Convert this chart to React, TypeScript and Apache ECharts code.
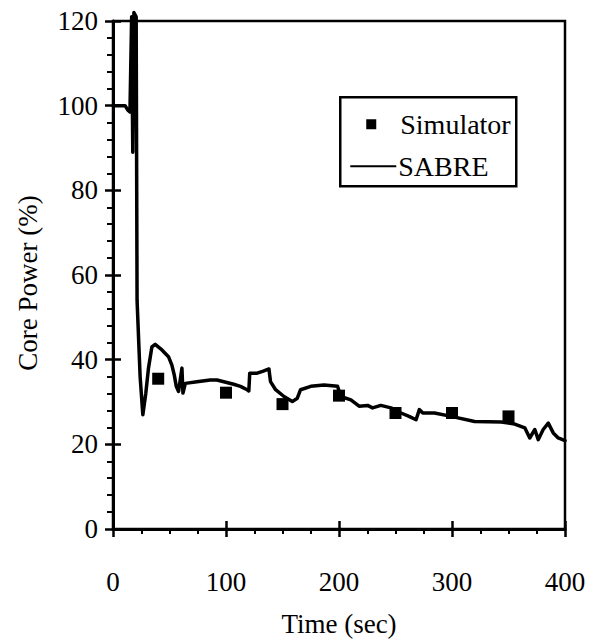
import React, { useEffect, useRef } from "react";
import * as echarts from "echarts";

const xMin = 0;
const xMax = 400;
const xStep = 100;
const yMin = 0;
const yMax = 120;
const yStep = 20;

const sabreTime = [
  0, 10.7, 13, 15, 16.5, 17.5, 18.5, 20.5, 21.3, 24, 26.4, 29, 31.4, 34.4, 37.3,
  43.3, 49.1, 52.1, 54.2, 56, 58, 61, 61.9, 64, 74.3, 86, 92, 106.8, 112.8,
  118.7, 120.2, 121, 127.6, 133, 138, 139.4, 143.9, 151.3, 158.7, 163.1, 166, 175,
  186.8, 198.7, 201.6, 210.5, 217.8, 225.3, 229.7, 237, 246, 254.9, 262, 268.2,
  271.1, 274.2, 284.5, 299.3, 320, 343.7, 355.5, 364.4, 368.8, 373.3, 376.3,
  380.7, 385.2, 389.6, 394, 400,
];
const sabrePower = [
  100, 100, 99, 98.5, 121, 89, 122, 121, 54, 36, 27, 32, 38, 43, 43.6, 42.3,
  40.7, 38.7, 36.4, 33.7, 32.5, 38, 32.1, 34.4, 34.8, 35.2, 35.2, 34.2, 33.7,
  32.9, 32.6, 36.8, 36.8, 37.3, 37.8, 34.8, 32.9, 31.3, 30.1, 30.9, 32.9, 33.7, 34,
  33.7, 31.3, 30.5, 29, 29.2, 28.6, 29.2, 28.6, 27.4, 26.6, 25.8, 28.2, 27.4,
  27.4, 26.6, 25.4, 25.3, 24.8, 23.9, 21.5, 23.5, 21.1, 23.5, 25, 22.7, 21.5,
  20.9,
];

const simTime = [40, 100, 150, 200, 250, 300, 350];
const simPower = [35.5, 32.2, 29.5, 31.5, 27.4, 27.4, 26.6];

const legendNames = ["Simulator", "SABRE"];
const xTitle = "Time (sec)";
const yTitle = "Core Power (%)";

export default function App() {
  const ref = useRef<HTMLDivElement>(null);

  useEffect(() => {
    document.body.style.margin = "0";
    const chart = echarts.init(ref.current!, null, { renderer: "svg" });
    const font = "'Liberation Serif', 'Times New Roman', serif";
    const black = "#000";
    const textStyle = { color: black, fontFamily: font, fontSize: 27 };

    const sabreData = sabreTime.map((t, i) => [t, sabrePower[i]]);
    const simData = simTime.map((t, i) => [t, simPower[i]]);

    chart.setOption({
      animation: false,
      backgroundColor: "#fff",
      grid: {
        left: 113,
        right: 27,
        top: 21,
        bottom: 111,
        show: true,
        borderColor: black,
        borderWidth: 2.5,
        backgroundColor: "transparent",
      },
      xAxis: [
        {
          type: "value",
          position: "bottom",
          min: xMin,
          max: xMax,
          interval: xStep,
          axisLine: { show: true, onZero: false, lineStyle: { color: black, width: 3 } },
          axisTick: { show: true, length: 8, lineStyle: { color: black, width: 2.5 } },
          minorTick: { show: true, splitNumber: 4, length: 5, lineStyle: { color: black, width: 2 } },
          splitLine: { show: false },
          axisLabel: { ...textStyle, margin: 39 },
          name: xTitle,
          nameLocation: "middle",
          nameGap: 81,
          nameTextStyle: textStyle,
        },
        {
          type: "value",
          position: "bottom",
          min: xMin,
          max: xMax,
          interval: xStep,
          axisLine: { show: false, onZero: false },
          axisTick: { show: true, inside: true, length: 8, lineStyle: { color: black, width: 2.5 } },
          axisLabel: { show: false },
          splitLine: { show: false },
        },
      ],
      yAxis: [
        {
          type: "value",
          position: "left",
          min: yMin,
          max: yMax,
          interval: yStep,
          axisLine: { show: true, onZero: false, lineStyle: { color: black, width: 3 } },
          axisTick: { show: true, length: 8, lineStyle: { color: black, width: 2.5 } },
          minorTick: { show: true, splitNumber: 5, length: 6, lineStyle: { color: black, width: 2 } },
          splitLine: { show: false },
          axisLabel: { ...textStyle, margin: 15 },
          name: yTitle,
          nameLocation: "middle",
          nameGap: 72,
          nameTextStyle: { ...textStyle, padding: [0, 16, 0, 0] },
        },
        {
          type: "value",
          position: "left",
          min: yMin,
          max: yMax,
          interval: yStep,
          axisLine: { show: false, onZero: false },
          axisTick: { show: true, inside: true, length: 8, lineStyle: { color: black, width: 2.5 } },
          axisLabel: { show: false },
          splitLine: { show: false },
        },
      ],
      series: [
        {
          name: legendNames[1],
          type: "line",
          data: sabreData,
          showSymbol: false,
          symbol: "none",
          clip: false,
          lineStyle: { color: black, width: 3.5, join: "round", cap: "round" },
          z: 3,
        },
        {
          name: legendNames[0],
          type: "scatter",
          data: simData,
          symbol: "rect",
          symbolSize: 12,
          itemStyle: { color: black, opacity: 1 },
          z: 4,
        },
      ],
      graphic: [
        {
          type: "group",
          left: 339,
          top: 96,
          children: [
            {
              type: "rect",
              shape: { x: 0, y: 0, width: 176, height: 89 },
              style: { fill: "#fff", stroke: black, lineWidth: 2.5 },
            },
            {
              type: "rect",
              shape: { x: 26, y: 22, width: 10, height: 10 },
              style: { fill: black },
            },
            {
              type: "line",
              shape: { x1: 10, y1: 69, x2: 56, y2: 69 },
              style: { stroke: black, lineWidth: 2 },
            },
            {
              type: "text",
              x: 60,
              y: 27,
              style: {
                text: legendNames[0],
                fill: black,
                font: `28px ${font}`,
                verticalAlign: "middle",
                align: "left",
              },
            },
            {
              type: "text",
              x: 58,
              y: 69,
              style: {
                text: legendNames[1],
                fill: black,
                font: `28px ${font}`,
                verticalAlign: "middle",
                align: "left",
              },
            },
          ],
        },
      ],
    });

    return () => chart.dispose();
  }, []);

  return <div ref={ref} style={{ width: 592, height: 642 }} />;
}
